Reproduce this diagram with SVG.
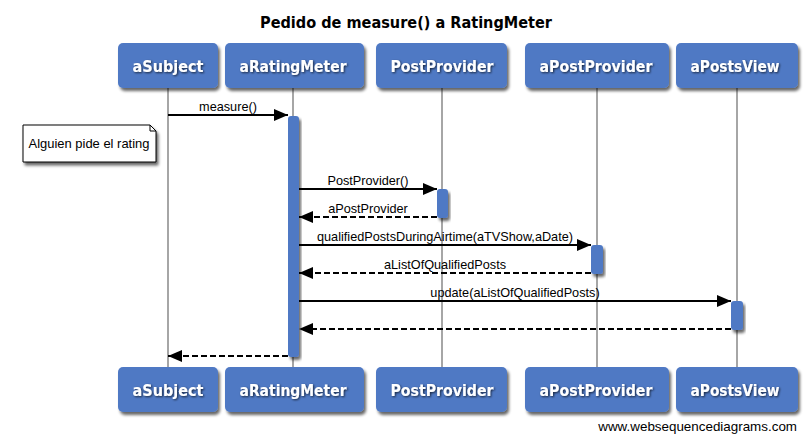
<svg xmlns="http://www.w3.org/2000/svg" width="810" height="434" viewBox="0 0 810 434">
<defs>
<filter id="sh" x="-10%" y="-10%" width="130%" height="140%">
<feGaussianBlur in="SourceAlpha" stdDeviation="1.5"/>
<feOffset dx="2" dy="3" result="b"/>
<feComponentTransfer><feFuncA type="linear" slope="0.6"/></feComponentTransfer>
<feMerge><feMergeNode/><feMergeNode in="SourceGraphic"/></feMerge>
</filter>
<filter id="tsh" x="-10%" y="-20%" width="130%" height="150%">
<feGaussianBlur in="SourceAlpha" stdDeviation="1"/>
<feOffset dx="1" dy="1"/>
<feComponentTransfer><feFuncA type="linear" slope="0.7"/></feComponentTransfer>
<feMerge><feMergeNode/><feMergeNode in="SourceGraphic"/></feMerge>
</filter>
<marker id="ah" markerWidth="14" markerHeight="12" refX="14" refY="6" orient="auto" markerUnits="userSpaceOnUse">
<path d="M0,0 L14,6 L0,12 Z" fill="#000"/>
</marker>
</defs>
<style>
.box{fill:#4f79c4;}
.bt{font-family:"DejaVu Sans",sans-serif;font-size:15.5px;font-weight:bold;fill:#fff;text-anchor:middle;}
.life{stroke:#888;stroke-width:1.5;fill:none;}
.act{fill:#4f79c4;}
.msg{stroke:#000;stroke-width:2;fill:none;marker-end:url(#ah);}
.ret{stroke:#000;stroke-width:2;fill:none;stroke-dasharray:6,3;marker-end:url(#ah);}
.ml{font-family:"Liberation Sans",sans-serif;font-size:12.7px;fill:#000;text-anchor:middle;}
.title{font-family:"DejaVu Sans",sans-serif;font-size:16px;font-weight:bold;fill:#000;text-anchor:middle;}
</style>
<rect width="810" height="434" fill="#fff"/>
<text class="title" x="406" y="28" textLength="292" lengthAdjust="spacingAndGlyphs">Pedido de measure() a RatingMeter</text>

<g id="lifelines">
<line class="life" x1="168" y1="88" x2="168" y2="367"/>
<line class="life" x1="293" y1="88" x2="293" y2="367"/>
<line class="life" x1="442" y1="88" x2="442" y2="367"/>
<line class="life" x1="597" y1="88" x2="597" y2="367"/>
<line class="life" x1="737" y1="88" x2="737" y2="367"/>
</g>

<g id="aSubject">
<rect class="box" x="118" y="43" width="100" height="45" rx="5" filter="url(#sh)"/>
<text class="bt" x="168" y="72" filter="url(#tsh)" textLength="71" lengthAdjust="spacingAndGlyphs">aSubject</text>
<rect class="box" x="118" y="367" width="100" height="45" rx="5" filter="url(#sh)"/>
<text class="bt" x="168" y="396" filter="url(#tsh)" textLength="71" lengthAdjust="spacingAndGlyphs">aSubject</text>
</g>
<g id="aRatingMeter">
<rect class="box" x="225" y="43" width="139" height="45" rx="5" filter="url(#sh)"/>
<text class="bt" x="293" y="72" filter="url(#tsh)" textLength="107" lengthAdjust="spacingAndGlyphs">aRatingMeter</text>
<rect class="box" x="225" y="367" width="139" height="45" rx="5" filter="url(#sh)"/>
<text class="bt" x="293" y="396" filter="url(#tsh)" textLength="107" lengthAdjust="spacingAndGlyphs">aRatingMeter</text>
<rect class="act" x="288" y="116" width="11" height="241" rx="3" filter="url(#sh)"/>
</g>
<g id="PostProvider">
<rect class="box" x="376" y="43" width="131" height="45" rx="5" filter="url(#sh)"/>
<text class="bt" x="442" y="72" filter="url(#tsh)" textLength="103" lengthAdjust="spacingAndGlyphs">PostProvider</text>
<rect class="box" x="376" y="367" width="131" height="45" rx="5" filter="url(#sh)"/>
<text class="bt" x="442" y="396" filter="url(#tsh)" textLength="103" lengthAdjust="spacingAndGlyphs">PostProvider</text>
<rect class="act" x="437" y="189" width="11" height="29" rx="3" filter="url(#sh)"/>
</g>
<g id="aPostProvider">
<rect class="box" x="525" y="43" width="144" height="45" rx="5" filter="url(#sh)"/>
<text class="bt" x="596" y="72" filter="url(#tsh)" textLength="113" lengthAdjust="spacingAndGlyphs">aPostProvider</text>
<rect class="box" x="525" y="367" width="144" height="45" rx="5" filter="url(#sh)"/>
<text class="bt" x="596" y="396" filter="url(#tsh)" textLength="113" lengthAdjust="spacingAndGlyphs">aPostProvider</text>
<rect class="act" x="591" y="245" width="12" height="29" rx="3" filter="url(#sh)"/>
</g>
<g id="aPostsView">
<rect class="box" x="676" y="43" width="122" height="45" rx="5" filter="url(#sh)"/>
<text class="bt" x="735" y="72" filter="url(#tsh)" textLength="89" lengthAdjust="spacingAndGlyphs">aPostsView</text>
<rect class="box" x="676" y="367" width="122" height="45" rx="5" filter="url(#sh)"/>
<text class="bt" x="735" y="396" filter="url(#tsh)" textLength="89" lengthAdjust="spacingAndGlyphs">aPostsView</text>
<rect class="act" x="731" y="301" width="12" height="29" rx="3" filter="url(#sh)"/>
</g>

<g id="note">
<path d="M23,125 L150,125 L156,131 L156,162 L23,162 Z" fill="#fff" stroke="#000" stroke-width="1" filter="url(#sh)"/>
<path d="M150,125 L150,131 L156,131" fill="none" stroke="#000" stroke-width="1"/>
<text x="89" y="148" font-family="Liberation Sans, sans-serif" font-size="13" text-anchor="middle" textLength="121" lengthAdjust="spacingAndGlyphs">Alguien pide el rating</text>
</g>

<g id="connectors">
<line class="msg" x1="168" y1="115" x2="288" y2="115"/>
<text class="ml" x="228" y="111">measure()</text>
<line class="msg" x1="299" y1="189" x2="437" y2="189"/>
<text class="ml" x="368" y="185">PostProvider()</text>
<line class="ret" x1="437" y1="217" x2="299" y2="217"/>
<text class="ml" x="368" y="213">aPostProvider</text>
<line class="msg" x1="299" y1="245" x2="591" y2="245"/>
<text class="ml" x="445" y="241">qualifiedPostsDuringAirtime(aTVShow,aDate)</text>
<line class="ret" x1="591" y1="273" x2="299" y2="273"/>
<text class="ml" x="445" y="269">aListOfQualifiedPosts</text>
<line class="msg" x1="299" y1="301" x2="731" y2="301"/>
<text class="ml" x="515" y="297">update(aListOfQualifiedPosts)</text>
<line class="ret" x1="731" y1="329" x2="299" y2="329"/>
<line class="ret" x1="288" y1="356" x2="168" y2="356"/>
</g>

<text x="797" y="431" font-family="Liberation Sans, sans-serif" font-size="13.4" text-anchor="end">www.websequencediagrams.com</text>
</svg>
